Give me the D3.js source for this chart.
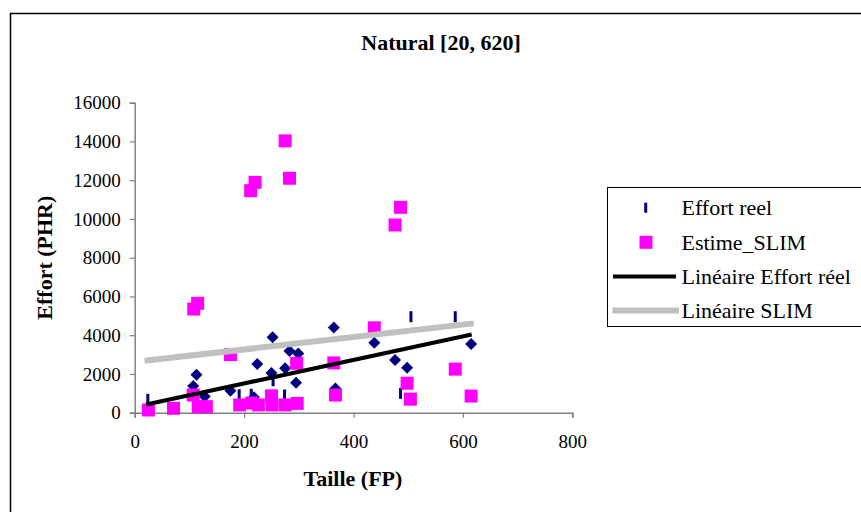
<!DOCTYPE html>
<html>
<head>
<meta charset="utf-8">
<script src="https://cdn.jsdelivr.net/npm/d3@7"></script>
<style>
  html, body { margin: 0; padding: 0; background: #fff; }
  svg { display: block; font-family: "Liberation Serif", "Times New Roman", serif; }
</style>
</head>
<body>
<svg id="chart" width="861" height="512"></svg>
<script>
// Axis ticks
const xTicks = [0, 200, 400, 600, 800];
const yTicks = [0, 2000, 4000, 6000, 8000, 10000, 12000, 14000, 16000];

// Estime_SLIM: size (FP) and estimated effort (PHR)
const slimSize   = [25, 71, 107, 108, 115, 116, 131, 175, 192, 212, 214, 220, 226, 250, 251, 275, 275, 283, 296, 297, 364, 367, 438, 476, 486, 498, 504, 586, 615];
const slimEffort = [140, 227, 913, 5350, 5645, 310, 310, 3000, 400, 11460, 500, 11890, 400, 870, 400, 14030, 400, 12100, 2550, 480, 2570, 910, 4380, 9690, 10600, 1520, 700, 2250, 860];

// Effort reel: projects drawn with the series' bar marker
const reelBarSize   = [24, 191, 213, 253, 274, 486, 505, 586];
const reelBarEffort = [690, 930, 950, 1650, 913, 1000, 4955, 4955];

// Effort reel: projects drawn with diamond markers
const reelDiamondSize   = [107, 113, 128, 175, 218, 224, 250, 252, 275, 283, 295, 299, 364, 367, 438, 476, 498, 615];
const reelDiamondEffort = [1380, 1960, 840, 1130, 800, 2510, 2050, 3890, 2290, 3180, 1550, 3060, 4400, 1250, 3610, 2720, 2320, 3545];

// Linear trend lines (end points)
const trendReelSize   = [21, 616];
const trendReelEffort = [420, 4040];
const trendSlimSize   = [18, 620];
const trendSlimEffort = [2680, 4610];

const legendLabels = ["Effort reel", "Estime_SLIM", "Linéaire Effort réel", "Linéaire SLIM"];

const NAVY = "#000080", MAGENTA = "#ff00ff", GREY = "#c0c0c0";

const svg = d3.select("#chart");

// chart frame
svg.append("path")
  .attr("d", "M10.5,520 V13.5 H870")
  .attr("fill", "none").attr("stroke", "#000").attr("stroke-width", 1.5);

svg.append("text")
  .attr("x", 441).attr("y", 50)
  .attr("text-anchor", "middle")
  .attr("font-weight", "bold").attr("font-size", 22)
  .text("Natural [20, 620]");

const x = d3.scaleLinear().domain([0, 800]).range([134.7, 572.3]);
const y = d3.scaleLinear().domain([0, 16000]).range([412.7, 102.7]);

// axes
const yAxis = svg.append("g").attr("transform", `translate(${x(0)},0)`)
  .call(d3.axisLeft(y).tickValues(yTicks).tickSize(5).tickPadding(9).tickFormat(d3.format("d")));
const xAxis = svg.append("g").attr("transform", `translate(0,${y(0)})`)
  .call(d3.axisBottom(x).tickValues(xTicks).tickSize(5).tickPadding(17).tickFormat(d3.format("d")));
[xAxis, yAxis].forEach(g => {
  g.select(".domain").attr("stroke", "#808080").attr("stroke-width", 1.5);
  g.selectAll(".tick line").attr("stroke", "#808080").attr("stroke-width", 1.2);
  g.selectAll(".tick text").attr("font-family", "Liberation Serif, Times New Roman, serif")
    .attr("font-size", 19).attr("fill", "#000");
});

svg.append("text")
  .attr("x", 353).attr("y", 486)
  .attr("text-anchor", "middle")
  .attr("font-weight", "bold").attr("font-size", 22)
  .text("Taille (FP)");
svg.append("text")
  .attr("transform", "translate(52,257.7) rotate(-90)")
  .attr("text-anchor", "middle")
  .attr("font-weight", "bold").attr("font-size", 22)
  .text("Effort (PHR)");

const plot = svg.append("g");

// diamonds (half-diagonal 6 px)
const diamondPath = "M0,-6L6,0L0,6L-6,0Z";
plot.selectAll(".diamond")
  .data(d3.zip(reelDiamondSize, reelDiamondEffort))
  .join("path")
  .attr("class", "diamond")
  .attr("d", diamondPath)
  .attr("transform", d => `translate(${x(d[0])},${y(d[1])})`)
  .attr("fill", NAVY);

// bar markers
plot.selectAll(".bar")
  .data(d3.zip(reelBarSize, reelBarEffort))
  .join("rect")
  .attr("class", "bar")
  .attr("x", d => x(d[0]) - 1.5).attr("y", d => y(d[1]) - 5.5)
  .attr("width", 3).attr("height", 11)
  .attr("fill", NAVY);

// SLIM squares
plot.selectAll(".sq")
  .data(d3.zip(slimSize, slimEffort))
  .join("rect")
  .attr("class", "sq")
  .attr("x", d => x(d[0]) - 6.5).attr("y", d => y(d[1]) - 6.5)
  .attr("width", 13).attr("height", 13)
  .attr("fill", MAGENTA);

// trend lines
const line = d3.line().x(d => x(d[0])).y(d => y(d[1]));
plot.append("path")
  .datum(d3.zip(trendSlimSize, trendSlimEffort))
  .attr("d", line).attr("stroke", GREY).attr("stroke-width", 6).attr("fill", "none");
plot.append("path")
  .datum(d3.zip(trendReelSize, trendReelEffort))
  .attr("d", line).attr("stroke", "#000").attr("stroke-width", 4).attr("fill", "none");

// legend
const lg = svg.append("g");
lg.append("rect")
  .attr("x", 607.5).attr("y", 187.5).attr("width", 300).attr("height", 139)
  .attr("fill", "#fff").attr("stroke", "#000").attr("stroke-width", 1);
const rowY = [207.7, 242.3, 276.5, 310.5];
lg.append("rect").attr("x", 644.2).attr("y", rowY[0] - 5).attr("width", 3).attr("height", 10).attr("fill", NAVY);
lg.append("rect").attr("x", 639.5).attr("y", rowY[1] - 6.5).attr("width", 13).attr("height", 13).attr("fill", MAGENTA);
lg.append("line").attr("x1", 613).attr("x2", 676).attr("y1", rowY[2]).attr("y2", rowY[2])
  .attr("stroke", "#000").attr("stroke-width", 4);
lg.append("line").attr("x1", 612.5).attr("x2", 679).attr("y1", rowY[3]).attr("y2", rowY[3])
  .attr("stroke", GREY).attr("stroke-width", 6);
lg.selectAll(".lt").data(legendLabels).join("text")
  .attr("class", "lt")
  .attr("x", 681.5).attr("y", (d, i) => rowY[i] + 7.5)
  .attr("font-size", 22)
  .text(d => d);
</script>
</body>
</html>
